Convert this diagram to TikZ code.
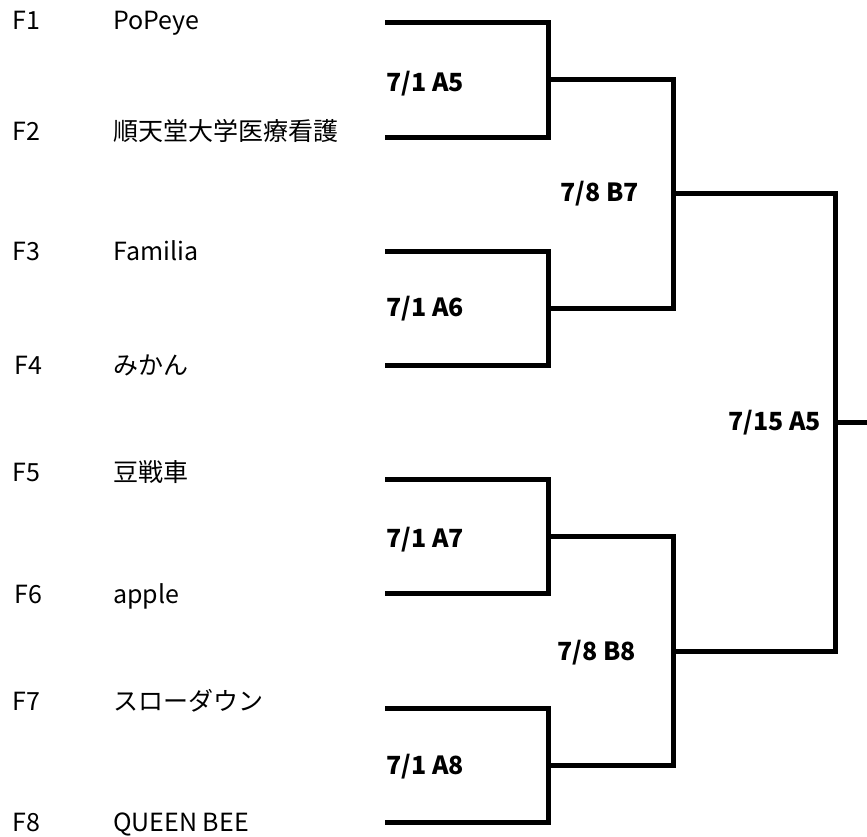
\documentclass[tikz,border=0pt]{standalone}
\usepackage{fontspec}
\setmainfont{Noto Sans CJK JP}
\usetikzlibrary{positioning}

\begin{document}
\begin{tikzpicture}[
  x=1pt, y=-1pt,
  every node/.style={inner sep=0pt, font=\fontsize{25}{30}\selectfont},
  seed/.style={anchor=base west},
  team/.style={anchor=base west},
  game/.style={anchor=base west, font=\fontsize{25}{30}\selectfont\bfseries},
  bracket/.style={line width=5pt, line join=miter, line cap=butt}
  ]
	\useasboundingbox (0,0) rectangle (867,836);

	% seeds and teams
	\node[seed] (f1) at (12,29) {F1};
	\node[seed] (f2) at (12,140) {F2};
	\node[seed] (f3) at (12,260) {F3};
	\node[seed] (f4) at (14,374) {F4};
	\node[seed] (f5) at (12,481) {F5};
	\node[seed] (f6) at (14,603) {F6};
	\node[seed] (f7) at (12,710) {F7};
	\node[seed] (f8) at (12,831) {F8};

	\node[team] (t1) at (113,29) {PoPeye};
	\node[team] (t2) at (113,140) {順天堂大学医療看護};
	\node[team] (t3) at (113,260) {Familia};
	\node[team] (t4) at (113,374) {みかん};
	\node[team] (t5) at (113,481) {豆戦車};
	\node[team] (t6) at (113,603) {apple};
	\node[team] (t7) at (113,710) {スローダウン};
	\node[team] (t8) at (113,831) {QUEEN BEE};

	% line starts
	\coordinate (@1) at (385,22);
	\coordinate (@2) at (385,137);
	\coordinate (@3) at (385,251);
	\coordinate (@4) at (385,365);
	\coordinate (@5) at (385,479);
	\coordinate (@6) at (385,593);
	\coordinate (@7) at (385,708);
	\coordinate (@8) at (385,822);

	% junctions
	\coordinate (r1a) at (548,79);
	\coordinate (r1b) at (548,308);
	\coordinate (r1c) at (548,536);
	\coordinate (r1d) at (548,765);
	\coordinate (r2a) at (673,193);
	\coordinate (r2b) at (673,651);
	\coordinate (r3)  at (835,422);
	\coordinate (win) at (867,422);

	\draw[bracket] (@1) -| (r1a) |- (@2);
	\draw[bracket] (@3) -| (r1b) |- (@4);
	\draw[bracket] (@5) -| (r1c) |- (@6);
	\draw[bracket] (@7) -| (r1d) |- (@8);

	\draw[bracket] (r1a) -| (r2a) |- (r1b);
	\draw[bracket] (r1c) -| (r2b) |- (r1d);

	\draw[bracket] (r2a) -| (r3) |- (r2b);
	\draw[bracket] (r3) -- (win);

	% match labels
	\node[game] (ga5) at (386,91) {7/1 A5};
	\node[game] (ga6) at (386,316) {7/1 A6};
	\node[game] (ga7) at (386,547) {7/1 A7};
	\node[game] (ga8) at (386,774) {7/1 A8};
	\node[game] (gb7) at (560,201) {7/8 B7};
	\node[game] (gb8) at (557,660) {7/8 B8};
	\node[game] (gfin) at (728,430) {7/15 A5};

\end{tikzpicture}
\end{document}
